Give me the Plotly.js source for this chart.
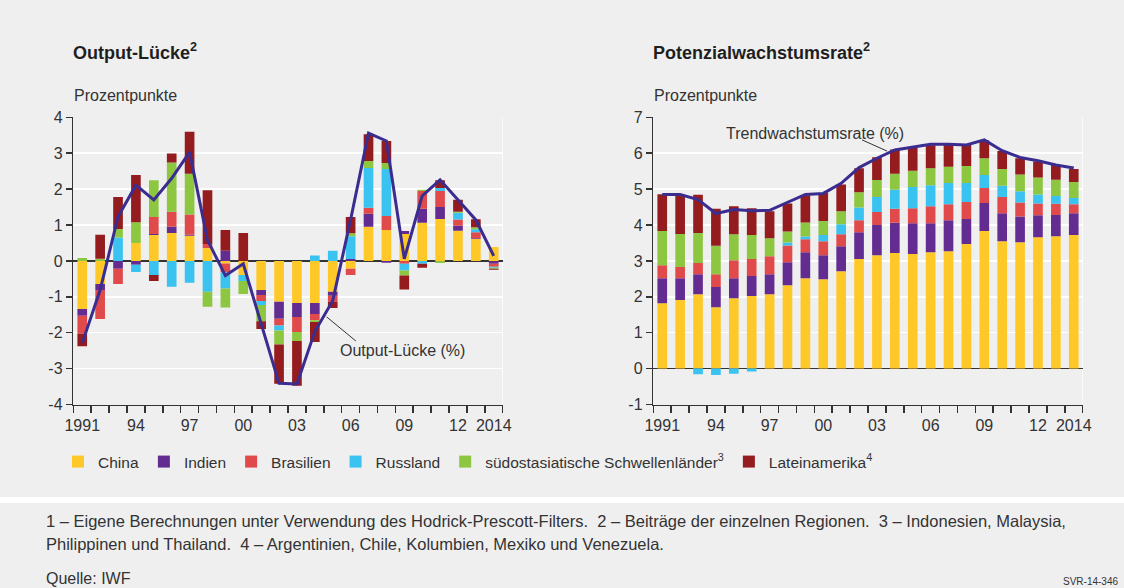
<!DOCTYPE html>
<html>
<head>
<meta charset="utf-8">
<script src="https://cdn.plot.ly/plotly-3.0.1.min.js"></script>
<style>
html,body{margin:0;padding:0;background:#efefef;}
#chart{width:1124px;height:588px;}
</style>
</head>
<body>
<div id="chart"></div>
<script>
// ---------- DATA ----------
const years = [1991,1992,1993,1994,1995,1996,1997,1998,1999,2000,2001,2002,2003,2004,2005,2006,2007,2008,2009,2010,2011,2012,2013,2014];
const tickYears = [1991,1994,1997,2000,2003,2006,2009,2012,2014];
const tickLabels = ['1991','94','97','00','03','06','09','12','2014'];
const seriesNames = ['China','Indien','Brasilien','Russland','südostasiatische Schwellenländer<sup>3</sup>','Lateinamerika<sup>4</sup>'];

// Output-Lücke: Beiträge der Regionen (Prozentpunkte)
const ogChina     = [-1.34,-0.64,0,0.50,0.72,0.78,0.70,0.36,-0.07,-0.39,-0.81,-1.14,-1.17,-1.17,-0.86,-0.22,0.95,0.86,0.75,1.06,1.17,0.84,0.61,0.39];
const ogIndien    = [-0.19,-0.17,-0.22,-0.11,0.03,0.17,0.03,0,0.28,0,-0.14,-0.47,-0.39,-0.31,-0.11,0.05,0.36,-0.05,0.08,0.39,0.33,0.14,0.02,-0.08];
const ogBrasilien = [-0.50,-0.81,-0.42,0,0.47,0.42,0.56,0.11,-0.25,0,-0.17,-0.19,-0.42,-0.17,-0.17,-0.17,0.17,0.39,-0.08,0.50,0.45,0.17,0.17,-0.08];
const ogRussland  = [0,0,0.65,-0.20,-0.39,-0.72,-0.61,-0.86,-0.45,-0.17,-0.11,-0.14,0,0.15,0.28,0.64,1.11,1.31,-0.19,-0.08,0.08,0.19,0.08,-0.03];
const ogSOA       = [0.08,0.06,0.24,0.58,1.03,1.37,1.14,-0.42,-0.53,-0.36,-0.45,-0.39,-0.25,-0.05,0,0.08,0.19,0.17,-0.14,0.03,-0.06,0.03,0.06,-0.03];
const ogLatam     = [-0.35,0.67,0.89,1.31,-0.17,0.25,1.17,1.50,0.58,0.78,-0.22,-1.09,-1.25,-0.56,-0.17,0.45,0.75,0.61,-0.39,-0.11,0.22,0.33,0.22,-0.03];
const ogTotal     = [-2.29,-0.81,1.23,2.11,1.70,2.30,3.03,0.58,-0.41,-0.08,-1.75,-3.41,-3.43,-1.97,-1.11,1.15,3.56,3.34,0.06,1.81,2.26,1.70,1.14,0.14];

// Potenzialwachstumsrate: Beiträge der Regionen (Prozentpunkte)
const pgChina     = [1.82,1.91,2.07,1.71,1.96,2.02,2.07,2.32,2.52,2.49,2.71,3.05,3.16,3.22,3.19,3.24,3.27,3.47,3.83,3.55,3.52,3.66,3.69,3.72];
const pgIndien    = [0.70,0.61,0.56,0.56,0.56,0.56,0.56,0.64,0.72,0.67,0.70,0.75,0.84,0.84,0.86,0.81,0.86,0.70,0.78,0.78,0.72,0.61,0.59,0.61];
const pgBrasilien = [0.36,0.31,0.31,0.36,0.50,0.47,0.50,0.47,0.36,0.39,0.33,0.33,0.36,0.39,0.42,0.47,0.45,0.47,0.42,0.45,0.39,0.33,0.31,0.25];
const pgRussland  = [0,0,-0.16,-0.18,-0.14,-0.08,0,0.08,0.08,0.17,0.28,0.36,0.42,0.53,0.59,0.59,0.59,0.53,0.36,0.31,0.31,0.25,0.22,0.17];
const pgSOA       = [0.95,0.92,0.84,0.79,0.72,0.67,0.50,0.31,0.39,0.39,0.36,0.42,0.47,0.45,0.45,0.47,0.45,0.47,0.47,0.47,0.47,0.47,0.45,0.45];
const pgLatam     = [1.03,1.09,1.06,1.03,0.78,0.75,0.75,0.78,0.75,0.78,0.75,0.67,0.64,0.67,0.64,0.64,0.64,0.59,0.50,0.50,0.45,0.45,0.42,0.36];
const pgTotal     = [4.85,4.85,4.71,4.32,4.43,4.40,4.41,4.62,4.85,4.88,5.16,5.60,5.86,6.09,6.18,6.25,6.25,6.23,6.37,6.07,5.88,5.79,5.67,5.59];

const ogTickVals = [-4,-3,-2,-1,0,1,2,3,4];
const ogTickText = ['-4','-3','-2','-1','0','1','2','3','4'];
const pgTickVals = [-1,0,1,2,3,4,5,6,7];
const pgTickText = ['-1','0','1','2','3','4','5','6','7'];

// ---------- STYLE ----------
const colors = ['#FFC829','#632C91','#E04A4B','#3AC2F0','#8DC640','#941B1E'];
const lineColor = '#3A2D8F';
const FONT = 'Liberation Sans, Arial, Helvetica, sans-serif';
const TXT = '#333333';
const W = 1124, H = 588;
const px = v => v / W;
const py = v => 1 - v / H;

const ogSeries = [ogChina, ogIndien, ogBrasilien, ogRussland, ogSOA, ogLatam];
const pgSeries = [pgChina, pgIndien, pgBrasilien, pgRussland, pgSOA, pgLatam];

const traces = [];
ogSeries.forEach((s, i) => traces.push({
  type: 'bar', x: years, y: s, name: seriesNames[i], xaxis: 'x', yaxis: 'y',
  marker: {color: colors[i], line: {width: 0}}, width: 0.54,
  legendgroup: 'g' + i, showlegend: true, hoverinfo: 'skip'
}));
pgSeries.forEach((s, i) => traces.push({
  type: 'bar', x: years, y: s, name: seriesNames[i], xaxis: 'x2', yaxis: 'y2',
  marker: {color: colors[i], line: {width: 0}}, width: 0.54,
  legendgroup: 'g' + i, showlegend: false, hoverinfo: 'skip'
}));
traces.push({type: 'scatter', mode: 'lines', x: years, y: ogTotal, xaxis: 'x', yaxis: 'y',
  line: {color: lineColor, width: 3}, showlegend: false, name: 'Output-Lücke (%)'});
traces.push({type: 'scatter', mode: 'lines', x: years, y: pgTotal, xaxis: 'x2', yaxis: 'y2',
  line: {color: lineColor, width: 3}, showlegend: false, name: 'Trendwachstumsrate (%)'});

const xBase = {
  type: 'linear', range: [1990.5, 2014.5], tickmode: 'array', tickvals: tickYears, ticktext: tickLabels,
  ticks: 'outside', ticklen: 6, tickcolor: 'rgba(0,0,0,0)',
  minor: {tickmode: 'linear', tick0: 1990.5, dtick: 1, ticks: 'outside', ticklen: 7, tickwidth: 1.5, tickcolor: '#333', showgrid: false},
  showline: true, linecolor: '#333', linewidth: 1.5, showgrid: false, zeroline: false,
  tickfont: {family: FONT, size: 16, color: TXT}, fixedrange: true
};
const yBase = {
  tickmode: 'array', ticks: 'outside', ticklen: 6, tickwidth: 1.5, tickcolor: '#333',
  showline: true, linecolor: '#333', linewidth: 1.5,
  showgrid: true, gridcolor: '#ffffff', gridwidth: 1.5,
  zeroline: true, zerolinecolor: '#333', zerolinewidth: 1.5,
  tickfont: {family: FONT, size: 16, color: TXT}, fixedrange: true
};
const yDom = [py(404.5), py(117.3)];

const layout = {
  width: W, height: H,
  margin: {l: 0, r: 0, t: 0, b: 0, pad: 0},
  paper_bgcolor: '#efefef', plot_bgcolor: '#efefef',
  barmode: 'relative', bargap: 0.45,
  font: {family: FONT, size: 16, color: TXT},
  showlegend: true,
  legend: {orientation: 'h', x: px(58), xanchor: 'left', y: py(462), yanchor: 'middle',
    bgcolor: 'rgba(0,0,0,0)', font: {family: FONT, size: 15.5, color: TXT}, itemwidth: 30, traceorder: 'normal'},
  xaxis: Object.assign({}, xBase, {domain: [px(73.3), px(502.7)], anchor: 'y'}),
  yaxis: Object.assign({}, yBase, {domain: yDom, range: [-4, 4], tickvals: ogTickVals, ticktext: ogTickText, anchor: 'x'}),
  xaxis2: Object.assign({}, xBase, {domain: [px(653.3), px(1082.7)], anchor: 'y2'}),
  yaxis2: Object.assign({}, yBase, {domain: yDom, range: [-1, 7], tickvals: pgTickVals, ticktext: pgTickText, anchor: 'x2'}),
  shapes: [
    {type: 'line', xref: 'x', yref: 'y', x0: 2014.5, x1: 2014.5, y0: -4, y1: 4, line: {color: '#ffffff', width: 1.5}, layer: 'below'},
    {type: 'line', xref: 'x2', yref: 'y2', x0: 2014.5, x1: 2014.5, y0: -1, y1: 7, line: {color: '#ffffff', width: 1.5}, layer: 'below'},
    {type: 'line', xref: 'x', yref: 'y', x0: 2004.66, y0: -1.56, x1: 2006.29, y1: -2.23, line: {color: '#333', width: 1}},
    {type: 'line', xref: 'x2', yref: 'y2', x0: 2002.17, y0: 6.37, x1: 2003.56, y1: 6.06, line: {color: '#333', width: 1}},
    {type: 'rect', xref: 'paper', yref: 'paper', x0: 0, x1: 1, y0: py(503), y1: py(497), fillcolor: '#ffffff', line: {width: 0}, layer: 'below'}
  ],
  annotations: [
    {xref: 'paper', yref: 'paper', x: px(71), y: py(51), xanchor: 'left', yanchor: 'middle', showarrow: false,
      text: '<b>Output-Lücke<sup>2</sup></b>', font: {family: FONT, size: 18, color: '#1e1e1e'}},
    {xref: 'paper', yref: 'paper', x: px(651), y: py(51), xanchor: 'left', yanchor: 'middle', showarrow: false,
      text: '<b>Potenzialwachstumsrate<sup>2</sup></b>', font: {family: FONT, size: 18, color: '#1e1e1e'}},
    {xref: 'paper', yref: 'paper', x: px(72), y: py(96), xanchor: 'left', yanchor: 'middle', showarrow: false,
      text: 'Prozentpunkte', font: {family: FONT, size: 16, color: TXT}},
    {xref: 'paper', yref: 'paper', x: px(652), y: py(96), xanchor: 'left', yanchor: 'middle', showarrow: false,
      text: 'Prozentpunkte', font: {family: FONT, size: 16, color: TXT}},
    {xref: 'x', yref: 'y', x: 2005.3, y: -2.5, xanchor: 'left', yanchor: 'middle', showarrow: false,
      text: 'Output-Lücke (%)', font: {family: FONT, size: 16, color: TXT}},
    {xref: 'x2', yref: 'y2', x: 1994.45, y: 6.56, xanchor: 'left', yanchor: 'middle', showarrow: false,
      text: 'Trendwachstumsrate (%)', font: {family: FONT, size: 16, color: TXT}},
    {xref: 'paper', yref: 'paper', x: px(44), y: py(521), xanchor: 'left', yanchor: 'middle', showarrow: false,
      text: '1 – Eigene Berechnungen unter Verwendung des Hodrick-Prescott-Filters.  2 – Beiträge der einzelnen Regionen.  3 – Indonesien, Malaysia,',
      font: {family: FONT, size: 16.5, color: TXT}},
    {xref: 'paper', yref: 'paper', x: px(44), y: py(544), xanchor: 'left', yanchor: 'middle', showarrow: false,
      text: 'Philippinen und Thailand.  4 – Argentinien, Chile, Kolumbien, Mexiko und Venezuela.',
      font: {family: FONT, size: 16.5, color: TXT}},
    {xref: 'paper', yref: 'paper', x: px(44), y: py(578), xanchor: 'left', yanchor: 'middle', showarrow: false,
      text: 'Quelle: IWF', font: {family: FONT, size: 16, color: TXT}},
    {xref: 'paper', yref: 'paper', x: px(1120), y: py(581), xanchor: 'right', yanchor: 'middle', showarrow: false,
      text: 'SVR-14-346', font: {family: FONT, size: 10, color: TXT}}
  ]
};

Plotly.newPlot('chart', traces, layout, {displayModeBar: false, staticPlot: true});
</script>
</body>
</html>
